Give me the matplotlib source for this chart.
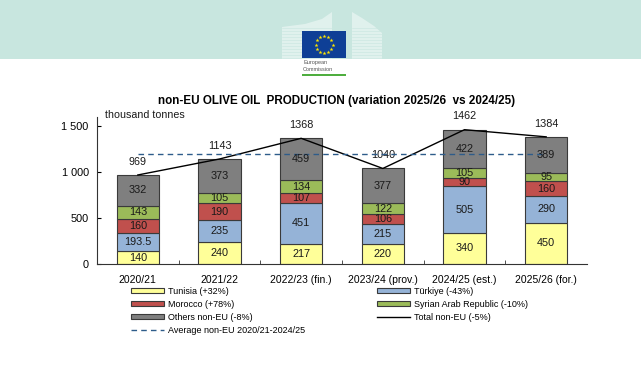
import matplotlib
matplotlib.use("Agg")
import matplotlib.pyplot as plt
from matplotlib.patches import Rectangle, Polygon
from matplotlib.lines import Line2D
import numpy as np

plt.rcParams['font.family'] = ['Liberation Sans', 'DejaVu Sans']

# data (thousand tonnes)
campaigns = ['2020/21', '2021/22', '2022/23 (fin.)', '2023/24 (prov.)',
             '2024/25 (est.)', '2025/26 (for.)']
tunisia = [140, 240, 217, 220, 340, 450]
turkiye = [193.5, 235, 451, 215, 505, 290]
morocco = [160, 190, 107, 106, 90, 160]
syria = [143, 105, 134, 122, 105, 95]
others = [332, 373, 459, 377, 422, 389]
total = [969, 1143, 1368, 1040, 1462, 1384]
average = np.mean(total[:5])

series = [
    ('Tunisia (+32%)', tunisia, '#ffff99'),
    ('Türkiye (-43%)', turkiye, '#95b3d7'),
    ('Morocco (+78%)', morocco, '#c0504d'),
    ('Syrian Arab Republic (-10%)', syria, '#9bbb59'),
    ('Others non-EU (-8%)', others, '#7f7f7f'),
]

fig = plt.figure(figsize=(6.41, 3.65), dpi=100)

# header band with logo, drawn in pixel coordinates
bg = fig.add_axes([0, 0, 1, 1], zorder=-1)
bg.set_xlim(0, 641)
bg.set_ylim(365, 0)
bg.axis('off')
bg.add_patch(Rectangle((0, 0), 641, 59, color='#c8e6df', lw=0))
bg.add_patch(Polygon([(282, 59), (282, 27), (305, 24), (322, 19), (332, 12), (332, 59)],
                     closed=True, color='white', alpha=0.45, lw=0))
bg.add_patch(Polygon([(352, 59), (352, 12), (362, 18), (374, 26), (382, 33), (382, 59)],
                     closed=True, color='white', alpha=0.45, lw=0))
for yy in range(28, 59, 3):
    bg.plot([282, 332], [yy, yy], color='#c8e6df', lw=0.4, zorder=1)
    bg.plot([352, 382], [yy, yy], color='#c8e6df', lw=0.4, zorder=1)
bg.add_patch(Rectangle((302, 31), 44, 27, color='#0e3f96', lw=0, zorder=3))
ang = np.linspace(0, 2 * np.pi, 13)[:-1]
bg.scatter(324 + 8.5 * np.cos(ang), 44.5 + 8.5 * np.sin(ang), marker='*', s=9,
           color='#ffe600', lw=0, zorder=4)
bg.text(303, 62.5, 'European', fontsize=4, color='#555555', va='center')
bg.text(303, 69.5, 'Commission', fontsize=4, color='#555555', va='center')
bg.add_patch(Rectangle((302, 74), 44, 2, color='#4fae3f', lw=0))

ax = fig.add_axes([97 / 641, 1 - 264 / 365, 490 / 641, 147 / 365])
x = np.arange(len(campaigns))
bottom = np.zeros(len(campaigns))
for name, vals, col in series:
    vals = np.array(vals)
    ax.bar(x, vals, width=0.52, bottom=bottom, color=col, edgecolor='#3a3a3a',
           lw=0.8, label=name, zorder=2)
    for xi, b, v in zip(x, bottom, vals):
        ax.text(xi, b + v / 2, f'{v:g}', ha='center', va='center', fontsize=7.8,
                color='#1a1a1a', zorder=4)
    bottom += vals

ax.plot(x, total, color='black', lw=1, zorder=3)
for xi, t in zip(x, total):
    ax.annotate(str(t), (xi, t), xytext=(0, 6), textcoords='offset points',
                ha='center', va='bottom', fontsize=7.8, color='#1a1a1a')
ax.plot([x[0], x[-1]], [average, average], color='#2e5c8a', lw=1,
        ls=(0, (4, 3)), zorder=3.5)

ax.set_xlim(-0.5, 5.5)
ax.set_ylim(0, 1600)
ax.set_yticks([0, 500, 1000, 1500])
ax.set_yticklabels(['0', '500', '1 000', '1 500'])
ax.set_xticks(x)
ax.set_xticklabels(campaigns)
ax.set_xticks(np.arange(0.5, 5.5, 1), minor=True)
ax.tick_params(axis='x', which='major', length=0, pad=8, labelsize=7.5)
ax.tick_params(axis='x', which='minor', direction='in', length=3, color='#333333')
ax.tick_params(axis='y', direction='in', length=3, pad=6, labelsize=7.8)
ax.spines['top'].set_visible(False)
ax.spines['right'].set_visible(False)
ax.spines['left'].set_color('#333333')
ax.spines['bottom'].set_color('#333333')

fig.text(105 / 641, 1 - 115 / 365, 'thousand tonnes', fontsize=7.7,
         va='center', ha='left', color='#1a1a1a')
fig.text(337 / 641, 1 - 101 / 365,
         'non-EU OLIVE OIL  PRODUCTION (variation 2025/26  vs 2024/25)',
         fontsize=8.4, fontweight='bold', ha='center', va='center')

# legend in two columns
h = {name: Rectangle((0, 0), 1, 1, fc=col, ec='#3a3a3a', lw=0.8)
     for name, _, col in series}
h_total = Line2D([], [], color='black', lw=1)
h_avg = Line2D([], [], color='#2e5c8a', lw=1, ls=(0, (4, 3)))
leg_kw = dict(frameon=False, fontsize=6.5, handlelength=3.7, handleheight=0.5,
              handletextpad=0.35, labelspacing=0.45, borderaxespad=0, borderpad=0,
              loc='upper left')
leg1 = fig.legend([h['Tunisia (+32%)'], h['Morocco (+78%)'], h['Others non-EU (-8%)'], h_avg],
                  ['Tunisia (+32%)', 'Morocco (+78%)', 'Others non-EU (-8%)',
                   'Average non-EU 2020/21-2024/25'],
                  bbox_to_anchor=(131 / 641, 1 - 287 / 365), **leg_kw)
leg2 = fig.legend([h['Türkiye (-43%)'], h['Syrian Arab Republic (-10%)'], h_total],
                  ['Türkiye (-43%)', 'Syrian Arab Republic (-10%)', 'Total non-EU (-5%)'],
                  bbox_to_anchor=(377 / 641, 1 - 287 / 365), **leg_kw)

fig.savefig('out.png', dpi=100)
